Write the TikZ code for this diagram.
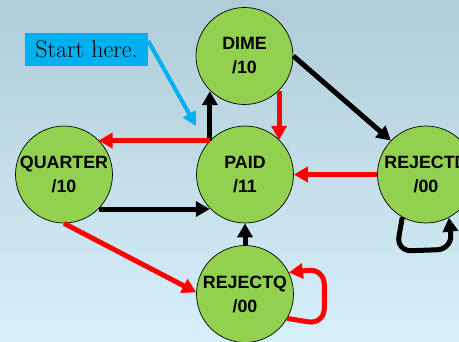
\documentclass[tikz,border=0pt]{standalone}
\usepackage{fontspec}
\setsansfont{Liberation Sans}
\usetikzlibrary{arrows.meta}

\definecolor{bgtop}{RGB}{176,204,216}
\definecolor{bgbot}{RGB}{214,240,250}
\definecolor{stategreen}{RGB}{146,208,80}
\definecolor{startblue}{RGB}{0,176,240}
\definecolor{arrred}{RGB}{255,0,0}

\tikzset{
  state/.style={circle, draw=black, line width=0.7pt, fill=stategreen,
    minimum size=97pt, inner sep=0pt, align=center,
    font=\sffamily\bfseries\fontsize{17.8}{24}\selectfont},
  head/.style={-{Triangle[length=14pt,width=15pt]}},
  blackarr/.style={head, draw=black, line width=5pt},
  redarr/.style={head, draw=arrred, line width=5pt},
  startbox/.style={fill=startblue, minimum width=123pt, minimum height=33pt,
    inner sep=0pt, font=\fontsize{24}{28}\selectfont},
  startarr/.style={-{Triangle[length=14pt,width=14pt]}, draw=startblue, line width=4pt}
}

\begin{document}
\begin{tikzpicture}[x=1pt, y=-1pt]
  % page frame and background
  \useasboundingbox (0,0) rectangle (459,341);
  \clip (0,0) rectangle (459,341);
  \shade[top color=bgtop, bottom color=bgbot] (0,0) rectangle (459,341);

  % states
  \node[state] (DIME)    at (244.5,56)  {DIME\\/10};
  \node[state] (PAID)    at (245,174.5) {PAID\\/11};
  \node[state] (QUARTER) at (64,174.5)  {QUARTER\\/10};
  \node[state] (REJECTQ) at (245,294)   {REJECTQ\\/00};
  \node[state] (REJECTD) at (426,174.5) {REJECTD\\/00};

  % start marker
  \node[startbox] (start) at (86.5,49.5) {Start here.};
  \coordinate (startTip) at (196,126);
  \draw[startarr] (start.8) -- (startTip);

  % transitions
  \draw[blackarr] (PAID.136) -- (PAID.136 |- DIME.226);
  \draw[redarr]   (PAID.136) -- (PAID.136 -| QUARTER.45);
  \draw[redarr]   (DIME.-45) -- (DIME.-45 |- PAID.45);
  \draw[blackarr] (DIME.east) -- (REJECTD.136);
  \draw[redarr]   (REJECTD.west) -- (PAID.east);
  \draw[blackarr] (QUARTER.-45) -- (QUARTER.-45 -| PAID.224);
  \draw[redarr]   (QUARTER.south) -- (REJECTQ.178);
  \draw[blackarr] (REJECTQ.north) -- (PAID.south);

  % self loops
  \draw[redarr, rounded corners=16pt]
    (REJECTQ.-30) -- ++(37,6) -- ++(0,-56) -- (REJECTQ.26);
  \draw[blackarr, rounded corners=15pt]
    (REJECTD.-119) -- ++(-6,34) -- ++(56,-2) -- (REJECTD.-62);
\end{tikzpicture}
\end{document}
